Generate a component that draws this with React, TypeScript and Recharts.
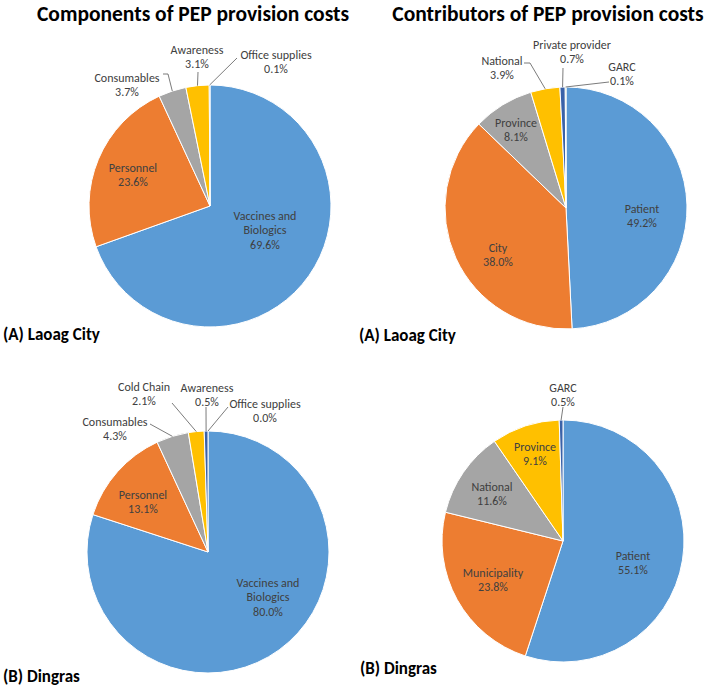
import React from "react";
import { PieChart, Pie, Cell } from "recharts";

// Laoag City – cost components
const laoagComponentNames = ["Vaccines and Biologics", "Personnel", "Consumables", "Awareness", "Office supplies"];
const laoagComponentValues = [69.6, 23.6, 3.7, 3.1, 0.1];

// Laoag City – contributors
const laoagContributorNames = ["Patient", "City", "Province", "National", "Private provider", "GARC"];
const laoagContributorValues = [49.2, 38.0, 8.1, 3.9, 0.7, 0.1];

// Dingras – cost components
const dingrasComponentNames = ["Vaccines and Biologics", "Personnel", "Consumables", "Cold Chain", "Awareness", "Office supplies"];
const dingrasComponentValues = [80.0, 13.1, 4.3, 2.1, 0.5, 0.0];

// Dingras – contributors
const dingrasContributorNames = ["Patient", "Municipality", "National", "Province", "GARC"];
const dingrasContributorValues = [55.1, 23.8, 11.6, 9.1, 0.5];

const COLORS = ["#5B9BD5", "#ED7D31", "#A5A5A5", "#FFC000", "#3A62A8", "#70AD47"];
const TEXT = "#404040";
const FONT = "Carlito, Lato, 'Open Sans', sans-serif";
const RADIAN = Math.PI / 180;
const R = 121;

type Place = { dx: number; dy: number; inside?: boolean; lead?: [number, number][] };

// label placement relative to each pie centre
const laoagComponentPlaces: Place[] = [
  { dx: 55, dy: 24, inside: true },
  { dx: -77, dy: -31, inside: true },
  { dx: -83, dy: -121, lead: [[-47, -132], [-42, -132]] },
  { dx: -13, dy: -149, lead: [[-12, -134]] },
  { dx: 66, dy: -144, lead: [[27, -148]] },
];
const laoagContributorPlaces: Place[] = [
  { dx: 76, dy: 8, inside: true },
  { dx: -68, dy: 47, inside: true },
  { dx: -50, dy: -78, inside: true },
  { dx: -64, dy: -140, lead: [[-42, -145], [-36, -145]] },
  { dx: 6, dy: -156, lead: [[-3, -140]] },
  { dx: 56, dy: -134, lead: [[43, -126]] },
];
const dingrasComponentPlaces: Place[] = [
  { dx: 60, dy: 45, inside: true },
  { dx: -65, dy: -50, inside: true },
  { dx: -93, dy: -123, lead: [[-58, -128]] },
  { dx: -64, dy: -158, lead: [[-36, -149]] },
  { dx: -1, dy: -157, lead: [[-2, -145]] },
  { dx: 57, dy: -141, lead: [[20, -145]] },
];
const dingrasContributorPlaces: Place[] = [
  { dx: 70, dy: 22, inside: true },
  { dx: -70, dy: 39, inside: true },
  { dx: -71, dy: -47, inside: true },
  { dx: -28, dy: -87, inside: true },
  { dx: 0, dy: -146, lead: [[0, -134]] },
];

function wrap(name: string, inside?: boolean) {
  if (!inside) return [name];
  const words = name.split(" ");
  const lines: string[] = [];
  let cur = "";
  words.forEach((w) => {
    if (cur && (cur + " " + w).length > 13) {
      lines.push(cur);
      cur = w;
    } else cur = cur ? cur + " " + w : w;
  });
  if (cur) lines.push(cur);
  return lines;
}

function makeLabel(places: Place[]) {
  return (props: any) => {
    const { cx, cy, midAngle, outerRadius, index, name, value } = props;
    const p = places[index];
    if (!p) return null;
    const lines = [...wrap(name, p.inside), `${Number(value).toFixed(1)}%`];
    const lh = 14.5;
    const x = cx + p.dx;
    const y0 = cy + p.dy - ((lines.length - 1) * lh) / 2 + 4;
    let leader = null;
    if (p.lead) {
      const ex = cx + outerRadius * Math.cos(-midAngle * RADIAN);
      const ey = cy + outerRadius * Math.sin(-midAngle * RADIAN);
      const pts = p.lead.map(([a, b]) => `${cx + a},${cy + b}`).join(" ") + ` ${ex},${ey}`;
      leader = <polyline points={pts} fill="none" stroke="#595959" strokeWidth={0.8} />;
    }
    return (
      <g key={`l-${index}`}>
        {leader}
        <text x={x} y={y0} textAnchor="middle" fill={TEXT} fontSize={12} fontFamily={FONT}>
          {lines.map((l, i) => (
            <tspan key={i} x={x} y={y0 + i * lh}>
              {l}
            </tspan>
          ))}
        </text>
      </g>
    );
  };
}

function toRows(names: string[], values: number[]) {
  return names.map((name, i) => ({ name, value: values[i] }));
}

const pies = [
  { id: "lc", cx: 205, cy: 201, names: laoagComponentNames, values: laoagComponentValues, places: laoagComponentPlaces },
  { id: "lk", cx: 561, cy: 203, names: laoagContributorNames, values: laoagContributorValues, places: laoagContributorPlaces },
  { id: "dc", cx: 203, cy: 547, names: dingrasComponentNames, values: dingrasComponentValues, places: dingrasComponentPlaces },
  { id: "dk", cx: 558, cy: 536, names: dingrasContributorNames, values: dingrasContributorValues, places: dingrasContributorPlaces },
];

const titleStyle: React.CSSProperties = {
  position: "absolute",
  top: 0,
  fontSize: 21.5,
  fontWeight: 700,
  lineHeight: "28px",
  whiteSpace: "nowrap",
  textAlign: "center",
  color: "#000",
};
const subStyle: React.CSSProperties = {
  position: "absolute",
  fontSize: 17,
  fontWeight: 700,
  lineHeight: "20px",
  whiteSpace: "nowrap",
  color: "#000",
};

export default function App() {
  return (
    <div style={{ position: "absolute", left: 0, top: 0, width: 708, height: 690, background: "#fff", fontFamily: FONT }}>
      <PieChart width={708} height={690}>
        {pies.map((pc) => (
          <Pie
            key={pc.id}
            data={toRows(pc.names, pc.values)}
            dataKey="value"
            nameKey="name"
            cx={pc.cx}
            cy={pc.cy}
            outerRadius={R}
            startAngle={90}
            endAngle={-270}
            stroke="#fff"
            strokeWidth={1}
            labelLine={false}
            label={makeLabel(pc.places)}
            isAnimationActive={false}
          >
            {pc.names.map((n, i) => (
              <Cell key={n} fill={COLORS[i % COLORS.length]} />
            ))}
          </Pie>
        ))}
      </PieChart>
      <div style={{ ...titleStyle, left: 0, width: 386 }}>Components of PEP provision costs</div>
      <div style={{ ...titleStyle, left: 392, width: 312 }}>Contributors of PEP provision costs</div>
      <div style={{ ...subStyle, left: 3, top: 325 }}>(A) Laoag City</div>
      <div style={{ ...subStyle, left: 359, top: 326 }}>(A) Laoag City</div>
      <div style={{ ...subStyle, left: 3, top: 667 }}>(B) Dingras</div>
      <div style={{ ...subStyle, left: 360, top: 659 }}>(B) Dingras</div>
    </div>
  );
}
